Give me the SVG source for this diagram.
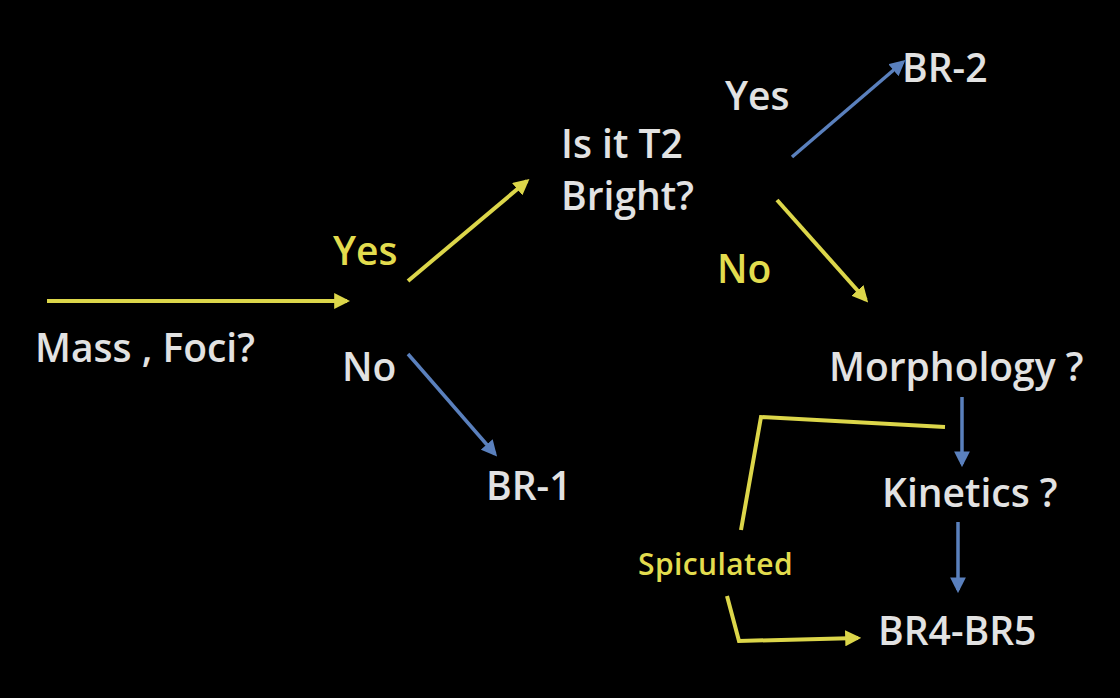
<svg xmlns="http://www.w3.org/2000/svg" width="1120" height="698" viewBox="0 0 1120 698">
<defs>
<style>
.t{font-family:"Open Sans","Liberation Sans",sans-serif;font-size:39px;font-weight:600;fill:#e2e2e2}
.y{fill:#e2dc4e}
.s{font-size:30px;letter-spacing:0.4px}
.ly{stroke:#dcd64a;stroke-width:4;fill:none;stroke-linejoin:miter}
.lb{stroke:#5a80bd;stroke-width:3.5;fill:none}
</style>
<marker id="ay" viewBox="0 0 10 10" refX="8" refY="5" markerWidth="4" markerHeight="4" orient="auto" markerUnits="strokeWidth"><path d="M0,0 L10,5 L0,10 z" fill="#dcd64a"/></marker>
<marker id="ab" viewBox="0 0 10 10" refX="8" refY="5" markerWidth="4.5" markerHeight="4.5" orient="auto" markerUnits="strokeWidth"><path d="M0,0 L10,5 L0,10 z" fill="#5a80bd"/></marker>
</defs>
<rect width="1120" height="698" fill="#000"/>
<g id="connectors">
<line class="ly" x1="47" y1="301" x2="347" y2="301" marker-end="url(#ay)"/>
<line class="ly" x1="408" y1="281" x2="527" y2="181" marker-end="url(#ay)"/>
<line class="lb" x1="792" y1="157" x2="903" y2="62" marker-end="url(#ab)"/>
<line class="ly" x1="777" y1="200" x2="866" y2="300" marker-end="url(#ay)"/>
<line class="lb" x1="408" y1="354" x2="495" y2="454" marker-end="url(#ab)"/>
<line class="lb" x1="962" y1="397" x2="962" y2="464" marker-end="url(#ab)"/>
<polyline class="ly" points="945,427 761,417 741,530"/>
<line class="lb" x1="958" y1="522" x2="958" y2="590" marker-end="url(#ab)"/>
<polyline class="ly" points="727,596 739,641 858,638" marker-end="url(#ay)"/>
</g>
<g id="mass"><text class="t" x="35" y="362">Mass , Foci?</text></g>
<g id="yes1"><text class="t y" x="333" y="265">Yes</text></g>
<g id="no1"><text class="t" x="342" y="381">No</text></g>
<g id="t2"><text class="t" x="561" y="158">Is it T2</text><text class="t" x="561" y="210">Bright?</text></g>
<g id="yes2"><text class="t" x="725" y="110">Yes</text></g>
<g id="br2"><text class="t" x="902" y="82">BR-2</text></g>
<g id="no2"><text class="t y" x="717" y="283">No</text></g>
<g id="br1"><text class="t" x="486" y="500">BR-1</text></g>
<g id="morph"><text class="t" x="829" y="381">Morphology ?</text></g>
<g id="kin"><text class="t" x="882" y="507">Kinetics ?</text></g>
<g id="spic"><text class="t y s" x="638" y="575">Spiculated</text></g>
<g id="br45"><text class="t" x="878" y="645">BR4-BR5</text></g>
</svg>
